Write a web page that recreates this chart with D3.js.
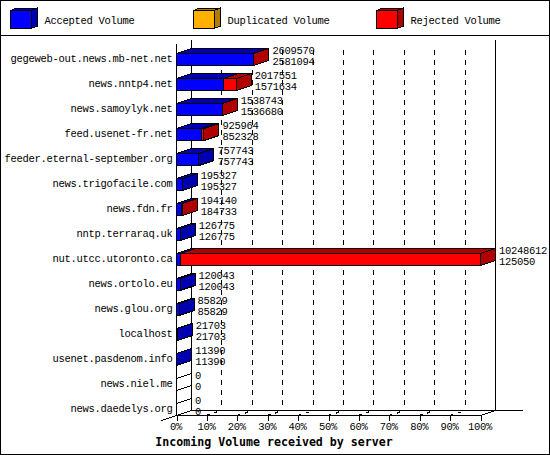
<!DOCTYPE html>
<meta charset="utf-8">
<head>
	<script src="https://d3js.org/d3.v7.min.js"></script>
	<style>
		body {
			margin: 0;
			background: #fff;
		}
		svg {
			display: block;
			shape-rendering: crispEdges;
		}
		text {
			font: 10.5px "Liberation Mono", monospace;
			letter-spacing: -0.3px;
			fill: #000;
		}
		.title {
			font: bold 11.6px "DejaVu Sans Mono", monospace;
			letter-spacing: 0;
		}
		.face {
			stroke: #000;
			stroke-width: 1;
			stroke-linejoin: miter;
		}
		.wall {
			stroke: #000;
			fill: none;
		}
		.grid {
			stroke: #000;
			stroke-dasharray: 5 5;
		}
	</style>
</head>

<body>
	<div id="chart"></div>
</body>

<script type="text/javascript">

	var servers = [
		"gegeweb-out.news.mb-net.net", "news.nntp4.net", "news.samoylyk.net",
		"feed.usenet-fr.net", "feeder.eternal-september.org", "news.trigofacile.com",
		"news.fdn.fr", "nntp.terraraq.uk", "nut.utcc.utoronto.ca", "news.ortolo.eu",
		"news.glou.org", "localhost", "usenet.pasdenom.info", "news.niel.me",
		"news.daedelys.org"
	];
	var totalVolume = [
		2609570, 2017551, 1538743, 925964, 757743, 195327, 194140, 126775,
		10248612, 120043, 85829, 21703, 11390, 0, 0
	];
	var acceptedVolume = [
		2581094, 1571634, 1536680, 852328, 757743, 195327, 184733, 126775,
		125050, 120043, 85829, 21703, 11390, 0, 0
	];
	var percentTicks = [0, 10, 20, 30, 40, 50, 60, 70, 80, 90, 100];
	var legendLabels = ["Accepted Volume", "Duplicated Volume", "Rejected Volume"];
	var legendColors = ["#0000ff", "#ffb000", "#ff0000"];
	var legendDarks = ["#0000b0", "#b07c00", "#b00000"];

	var width = 550,
		height = 455,
		depthX = 15,
		depthY = 5,
		plotTop = 40,
		floor = 415;

	var x = d3.scaleLinear()
		.domain([0, d3.max(totalVolume)])
		.range([176.5, 480.5]);

	var pct = d3.scaleLinear()
		.domain([0, 100])
		.range(x.range());

	var y = d3.scaleBand()
		.domain(servers)
		.range([plotTop, floor]);

	var legendX = d3.scalePoint()
		.domain(legendLabels)
		.range([10, 376]);

	var svg = d3.select("#chart").append("svg")
		.attr("width", width)
		.attr("height", height);

	svg.append("rect")
		.attr("class", "wall")
		.attr("x", 0.5)
		.attr("y", 0.5)
		.attr("width", width - 1)
		.attr("height", height - 1);

	svg.append("line")
		.attr("class", "wall")
		.attr("x1", 0)
		.attr("x2", width)
		.attr("y1", 35.5)
		.attr("y2", 35.5);

	function poly(g, pts, color) {
		g.append("polygon")
			.attr("class", "face")
			.attr("points", pts.map(function(p) { return p.join(","); }).join(" "))
			.style("fill", color);
	}

	function topFace(g, x0, x1, y0, dx, dy, color) {
		poly(g, [[x0, y0], [x0 + dx, y0 - dy], [x1 + dx, y0 - dy], [x1, y0]], color);
	}

	function sideFace(g, x1, y0, y1, dx, dy, color) {
		poly(g, [[x1, y0], [x1 + dx, y0 - dy], [x1 + dx, y1 - dy], [x1, y1]], color);
	}

	function frontFace(g, x0, x1, y0, y1, color) {
		poly(g, [[x0, y0], [x1, y0], [x1, y1], [x0, y1]], color);
	}

	// legend
	var legend = svg.append("g").attr("class", "legend_area");

	legendLabels.forEach(function(label, i) {
		var g = legend.append("g"),
			lx = legendX(label) + 0.5;
		topFace(g, lx, lx + 20.5, 10.5, 6.5, 2.5, legendDarks[i]);
		sideFace(g, lx + 20.5, 10.5, 28.5, 6.5, 2.5, legendDarks[i]);
		frontFace(g, lx, lx + 20.5, 10.5, 28.5, legendColors[i]);
		legend.append("text")
			.attr("x", lx + 34)
			.attr("y", 20)
			.attr("dy", ".35em")
			.text(label);
	});

	// back walls and grid
	var walls = svg.append("g").attr("class", "walls");

	walls.selectAll(".grid")
		.data(percentTicks.slice(1, -1))
		.enter().append("line")
		.attr("class", "grid")
		.attr("x1", function(d) { return pct(d) + depthX; })
		.attr("x2", function(d) { return pct(d) + depthX; })
		.attr("y1", 50)
		.attr("y2", floor - depthY);

	walls.selectAll(".floorTick")
		.data(percentTicks.slice(1, -1))
		.enter().append("line")
		.attr("class", "grid floorTick")
		.attr("x1", function(d) { return pct(d); })
		.attr("x2", function(d) { return pct(d) + depthX; })
		.attr("y1", floor + 0.5)
		.attr("y2", floor - depthY + 0.5)
		.style("stroke-dasharray", "3 5")
		.style("stroke-width", 1.5);

	function wallLine(x1, y1, x2, y2) {
		walls.append("line")
			.attr("class", "wall")
			.attr("x1", x1)
			.attr("y1", y1)
			.attr("x2", x2)
			.attr("y2", y2);
	}

	var x0 = pct(0),
		x100 = pct(100);

	wallLine(x0, 44, x0, floor);
	wallLine(x0 + depthX, plotTop, x0 + depthX, floor - depthY);
	wallLine(x100 + depthX, plotTop, x100 + depthX, floor - depthY);
	wallLine(x0 + depthX, floor - depthY + 0.5, 523, floor - depthY + 0.5);
	wallLine(x0, floor + 0.5, x100, floor + 0.5);
	wallLine(x0 - depthX, floor + depthY + 0.5, x0 + depthX, floor - depthY + 0.5);
	wallLine(x100, floor + 0.5, x100 + depthX, floor - depthY + 0.5);

	// bars
	var bars = svg.append("g").attr("class", "bar_area");

	servers.forEach(function(name, i) {
		var g = bars.append("g").attr("class", "group" + i),
			y0 = y(name) + 13.5,
			y1 = y(name) + 25.5,
			xa = x(acceptedVolume[i]),
			xt = x(totalVolume[i]),
			rejected = totalVolume[i] > acceptedVolume[i],
			sideColor = rejected ? legendDarks[2] : legendDarks[0];

		// an empty server has no volume, only the outline of its box
		if (totalVolume[i] === 0) sideColor = "none";

		if (rejected) {
			topFace(g, x0, xt, y0, depthX, depthY, legendDarks[2]);
		}
		sideFace(g, xt, y0, y1, depthX, depthY, sideColor);
		if (rejected) {
			frontFace(g, x0, xt, y0, y1, legendColors[2]);
		}
		topFace(g, x0, xa, y0, depthX, depthY, legendDarks[0]);
		frontFace(g, x0, xa, y0, y1, legendColors[0]);
	});

	// axes
	var yAxis = d3.axisLeft(y)
		.tickSize(0)
		.tickPadding(0);

	var yaxis = svg.append("g")
		.attr("transform", "translate(172.5,6.5)")
		.call(yAxis);

	yaxis.select(".domain").remove();
	yaxis.attr("font-family", null).attr("font-size", null);

	var xAxis = d3.axisBottom(pct)
		.tickValues(percentTicks)
		.tickSizeInner(5)
		.tickSizeOuter(0)
		.tickPadding(2)
		.tickFormat(function(d) { return d + "%"; });

	var xaxis = svg.append("g")
		.attr("transform", "translate(0," + (floor + 0.5) + ")")
		.call(xAxis);

	xaxis.select(".domain").remove();
	xaxis.attr("font-family", null).attr("font-size", null);
	xaxis.selectAll("line").style("stroke", "#000");
	xaxis.selectAll("text")
		.attr("y", 7)
		.attr("dx", -1);

	// value labels
	var labels = svg.append("g").attr("class", "value_labels");

	labels.selectAll(".total")
		.data(servers)
		.enter().append("text")
		.attr("class", "total")
		.attr("x", function(d, i) { return x(totalVolume[i]) + depthX + 3.5; })
		.attr("y", function(d) { return y(d) + 10; })
		.attr("dy", ".35em")
		.text(function(d, i) { return totalVolume[i]; });

	labels.selectAll(".accepted")
		.data(servers)
		.enter().append("text")
		.attr("class", "accepted")
		.attr("x", function(d, i) { return x(totalVolume[i]) + depthX + 3.5; })
		.attr("y", function(d) { return y(d) + 21; })
		.attr("dy", ".35em")
		.text(function(d, i) { return acceptedVolume[i]; });

	svg.append("text")
		.attr("class", "title")
		.attr("x", 274)
		.attr("y", 442)
		.attr("dy", ".35em")
		.style("text-anchor", "middle")
		.text("Incoming Volume received by server");
</script>
